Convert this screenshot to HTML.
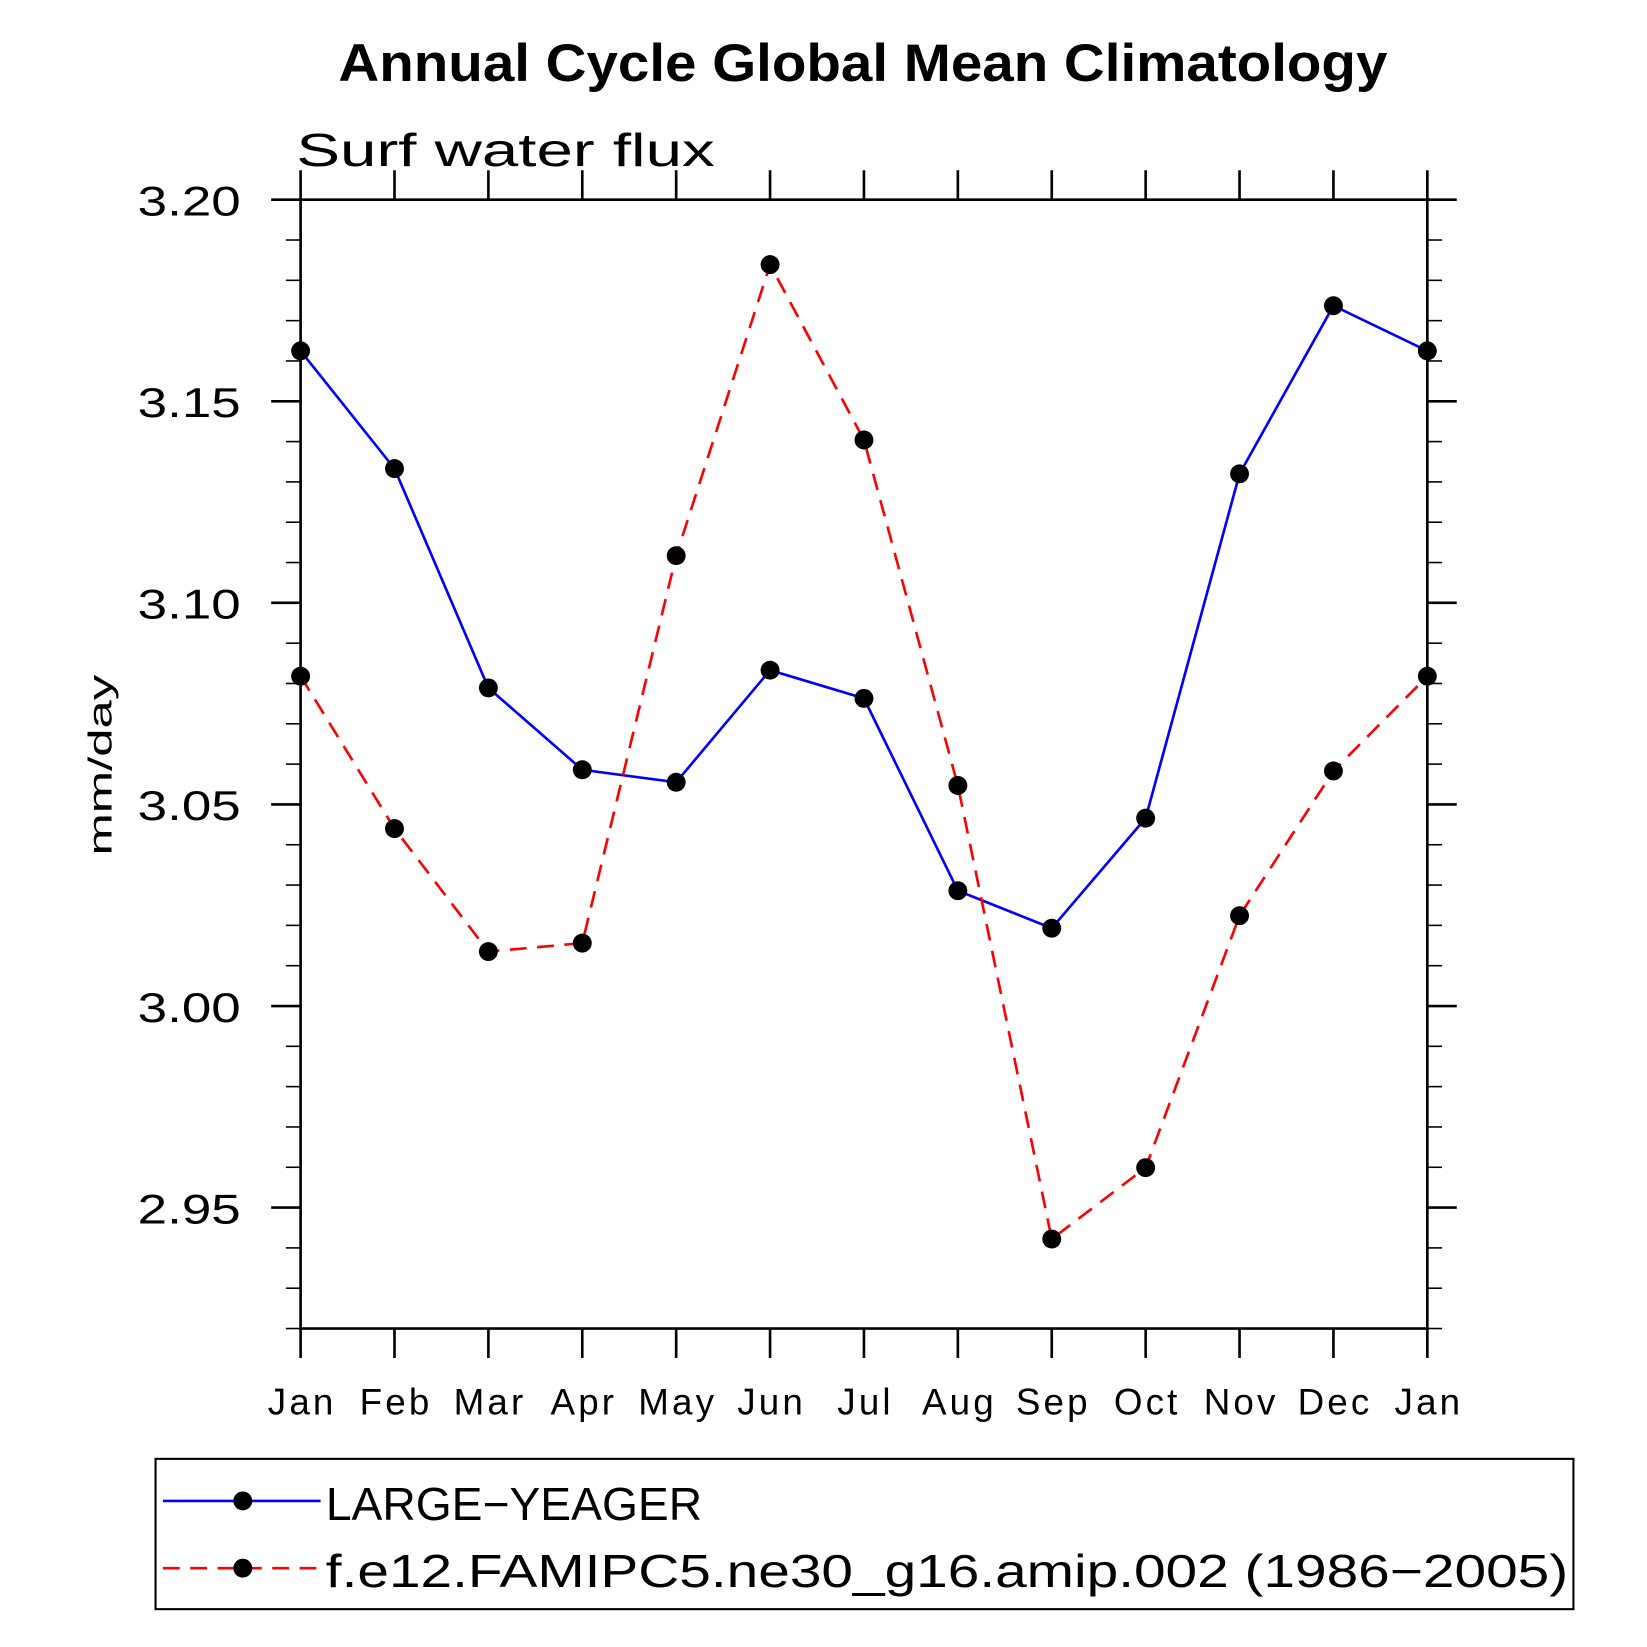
<!DOCTYPE html>
<html><head><meta charset="utf-8"><style>html,body{margin:0;padding:0;background:#fff}svg{display:block}text{font-family:"Liberation Sans",sans-serif}</style></head>
<body>
<svg id="chart" width="1647" height="1647" viewBox="0 0 1567 1567" xmlns="http://www.w3.org/2000/svg">
<text x="322" y="77" textLength="998" lengthAdjust="spacingAndGlyphs" font-size="50" font-weight="bold">Annual Cycle Global Mean Climatology</text>
<text x="282" y="158" textLength="398" lengthAdjust="spacingAndGlyphs" font-size="44">Surf  water flux</text>
<text transform="translate(106,728) rotate(-90)" text-anchor="middle" font-size="32" textLength="172" lengthAdjust="spacingAndGlyphs">mm/day</text>
<g id="axes"></g>
<g id="series"></g>
<rect x="148" y="1388" width="1349" height="143" fill="none" stroke="#000" stroke-width="2"/>
<g>
<line x1="155" y1="1428" x2="305" y2="1428" stroke="#00f" stroke-width="2.5"/>
<circle cx="231" cy="1428" r="9"/>
<text x="310" y="1446" font-size="44" textLength="358" lengthAdjust="spacingAndGlyphs">LARGE−YEAGER</text></g>
<g>
<line x1="155" y1="1492" x2="305" y2="1492" stroke="#f00" stroke-width="2.5" stroke-dasharray="16,10"/>
<circle cx="231" cy="1492" r="9"/>
<text x="310" y="1510" font-size="44" textLength="1182" lengthAdjust="spacingAndGlyphs">f.e12.FAMIPC5.ne30_g16.amip.002 (1986−2005)</text></g>
</svg>
<script>
const months = ["Jan","Feb","Mar","Apr","May","Jun","Jul","Aug","Sep","Oct","Nov","Dec","Jan"];
const largeYeager = [3.1625,3.1333,3.0789,3.0586,3.0555,3.0833,3.0763,3.0286,3.0193,3.0466,3.1320,3.1737,3.1625];
const famipc5 = [3.0818,3.0440,3.0135,3.0156,3.1117,3.1839,3.1404,3.0547,2.9422,2.9599,3.0224,3.0583,3.0818];
const yTicks = [2.95,3.00,3.05,3.10,3.15,3.20];
const yMin = 2.92, yMax = 3.20;
const L=286,R=1358,T=190,B=1264;
const NS="http://www.w3.org/2000/svg";
const xs=i=>L+(R-L)*i/(months.length-1);
const ys=v=>B-(v-yMin)/(yMax-yMin)*(B-T);
function mk(tag,attrs,parent){const e=document.createElementNS(NS,tag);for(const k in attrs)e.setAttribute(k,attrs[k]);parent.appendChild(e);return e;}
const ax=document.getElementById('axes');
const frame=mk('rect',{x:L,y:T,width:R-L,height:B-T,fill:'none',stroke:'#000','stroke-width':2.5},ax);


months.forEach((m,i)=>{
  const x=xs(i);
  mk('line',{x1:x,y1:B,x2:x,y2:B+28,stroke:'#000','stroke-width':2.5},ax);
  mk('line',{x1:x,y1:T,x2:x,y2:T-28,stroke:'#000','stroke-width':2.5},ax);
  const t=mk('text',{x:x+1.5,y:B+82,'text-anchor':'middle','font-size':35,'letter-spacing':3},ax);
  t.textContent=m;
  
  
});
for(let k=0;k<=28;k++){
  const v=yMin+k*0.01;const y=ys(v);
  const major=Math.abs(Math.round(v*100)%5)===0;
  const len=major?28:14;
  mk('line',{x1:L,y1:y,x2:L-len,y2:y,stroke:'#000','stroke-width':major?2.5:1.5},ax);
  mk('line',{x1:R,y1:y,x2:R+len,y2:y,stroke:'#000','stroke-width':major?2.5:1.5},ax);
}
yTicks.forEach(v=>{
  const t=mk('text',{x:229,y:ys(v)+15,'text-anchor':'end','font-size':40,textLength:98,lengthAdjust:'spacingAndGlyphs'},ax);
  t.textContent=v.toFixed(2);
  
  
});
const sg=document.getElementById('series');
function drawSeries(vals,color,dash,name){
  const pts=vals.map((v,i)=>xs(i)+','+ys(v)).join(' ');
  const pl=mk('polyline',{points:pts,fill:'none',stroke:color,'stroke-width':2.5,'stroke-dasharray':dash},sg);
  
  
  vals.forEach((v,i)=>{
    const c=mk('circle',{cx:xs(i),cy:ys(v),r:9,fill:'#000'},sg);
    
    
  });
}
drawSeries(largeYeager,'#00f','none','large-yeager');
drawSeries(famipc5,'#f00','16,10','famipc5');
</script>
</body></html>
